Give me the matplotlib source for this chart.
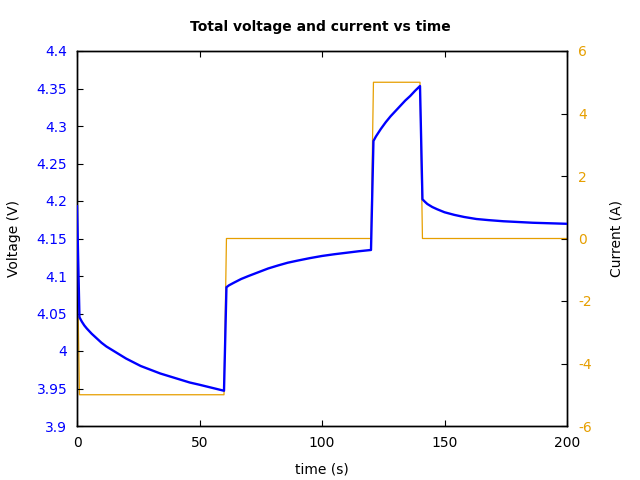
import matplotlib
matplotlib.use("Agg")
import matplotlib.pyplot as plt

plt.rcParams["axes.unicode_minus"] = False

# Voltage trace
v_time = [0, 1, 2, 3, 4, 6, 8, 10, 12, 14, 17, 20, 23, 26, 30, 34, 38, 42, 46, 50, 55, 60,
          61, 62, 64, 67, 70, 74, 78, 82, 86, 90, 95, 100, 105, 110, 115, 120,
          121, 122, 123, 124, 126, 128, 130, 132, 134, 136, 138, 140,
          141, 142, 143, 145, 147, 150, 154, 158, 163, 168, 174, 180, 186, 193, 200]
v_volt = [4.193, 4.045, 4.039, 4.034, 4.030, 4.023, 4.017, 4.011, 4.006, 4.002, 3.996, 3.990, 3.985,
          3.980, 3.975, 3.970, 3.966, 3.962, 3.958, 3.955, 3.951, 3.947,
          4.085, 4.0875, 4.091, 4.096, 4.100, 4.105, 4.110, 4.114, 4.1177, 4.1205, 4.1238, 4.1267,
          4.129, 4.131, 4.133, 4.1347,
          4.280, 4.286, 4.291, 4.296, 4.305, 4.313, 4.320, 4.327, 4.334, 4.340, 4.347, 4.3533,
          4.2023, 4.199, 4.196, 4.192, 4.189, 4.185, 4.1815, 4.1787, 4.176, 4.1745, 4.173, 4.172,
          4.171, 4.1703, 4.1696]

# Current trace (step profile)
i_time = [0, 1, 60, 61, 120, 121, 140, 141, 200]
i_amp = [0, -5, -5, 0, 0, 5, 5, 0, 0]

BLUE = "#0000ff"
ORANGE = "#e69f00"

fig = plt.figure(figsize=(6.4, 4.8), dpi=100)
ax = fig.add_axes([77 / 640, 54 / 480, 490 / 640, 375 / 480])
ax2 = ax.twinx()

ax.plot(v_time, v_volt, color=BLUE, linewidth=1.7, zorder=3)
ax2.plot(i_time, i_amp, color=ORANGE, linewidth=0.9)
ax.set_zorder(ax2.get_zorder() + 1)
ax.patch.set_visible(False)

ax.set_xlim(0, 200)
ax.set_ylim(3.9, 4.4)
ax2.set_ylim(-6, 6)

ax.set_xticks([0, 50, 100, 150, 200])
ax.set_yticks([3.9, 3.95, 4.0, 4.05, 4.1, 4.15, 4.2, 4.25, 4.3, 4.35, 4.4])
ax.set_yticklabels(["3.9", "3.95", "4", "4.05", "4.1", "4.15", "4.2", "4.25", "4.3", "4.35", "4.4"])
ax2.set_yticks([-6, -4, -2, 0, 2, 4, 6])

ax.tick_params(axis="x", direction="in", top=True, length=4.5, width=0.8, labelsize=10, pad=7)
ax.tick_params(axis="y", direction="in", length=4.5, width=0.8, labelsize=10, labelcolor=BLUE, pad=7)
ax2.tick_params(axis="y", direction="in", length=4.5, width=0.8, labelsize=10, labelcolor=ORANGE, pad=8)

for a in (ax, ax2):
    for s in a.spines.values():
        s.set_linewidth(1.0)

ax.set_xlabel("time (s)", fontsize=10, labelpad=9)
ax.set_ylabel("Voltage (V)", fontsize=10, labelpad=11)
ax2.set_ylabel("Current (A)", fontsize=10, labelpad=13)
fig.suptitle("Total voltage and current vs time", fontsize=10, fontweight="bold", y=0.958)

fig.savefig("out.png", dpi=100)
